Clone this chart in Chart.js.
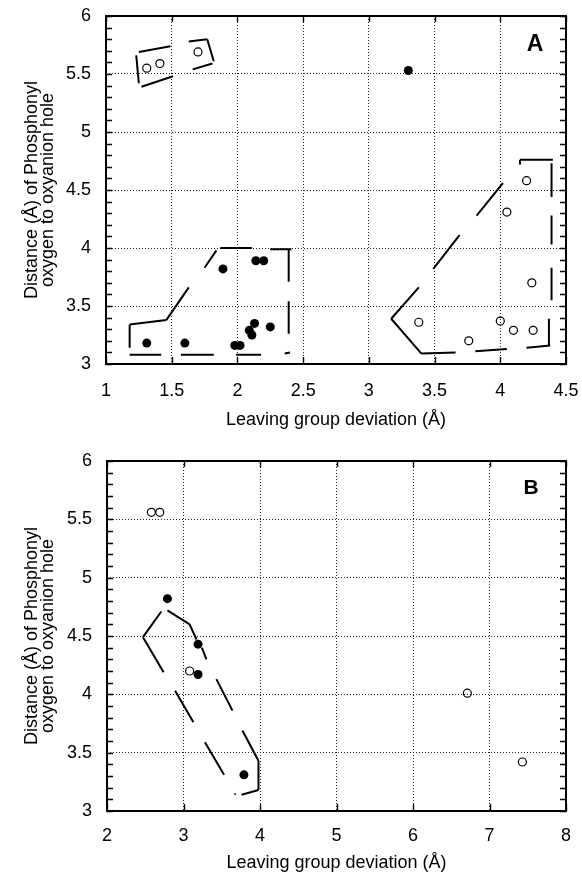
<!DOCTYPE html>
<html><head><meta charset="utf-8">
<script src="https://cdn.jsdelivr.net/npm/chart.js@4/dist/chart.umd.min.js"></script>
<style>
html,body{margin:0;padding:0;background:#fff;}
#wrap{position:relative;width:582px;height:876px;}
.c{position:absolute;left:0;width:582px;height:438px;}
</style></head><body>
<div id="wrap">
<div class="c" style="top:0"><canvas id="cA" width="582" height="438"></canvas></div>
<div class="c" style="top:438px"><canvas id="cB" width="582" height="438"></canvas></div>
</div>
<script>
// ---------- Data ----------
const yTickValues = [3, 3.5, 4, 4.5, 5, 5.5, 6];
const yTickLabels = ['3', '3.5', '4', '4.5', '5', '5.5', '6'];
const xTickValuesA = [1, 1.5, 2, 2.5, 3, 3.5, 4, 4.5];
const xTickLabelsA = ['1', '1.5', '2', '2.5', '3', '3.5', '4', '4.5'];
const xTickValuesB = [2, 3, 4, 5, 6, 7, 8];
const xTickLabelsB = ['2', '3', '4', '5', '6', '7', '8'];

const xTitle = 'Leaving group deviation (Å)';
const yTitle = ['Distance (Å) of Phosphonyl', 'oxygen to oxyanion hole'];

// Panel A
const filledA = [[1.31,3.18],[1.60,3.18],[1.89,3.82],[2.14,3.89],[2.20,3.89],[1.98,3.16],[2.02,3.16],
                 [2.09,3.29],[2.11,3.25],[2.13,3.35],[2.25,3.32],[3.30,5.53]];
const openA = [[1.31,5.55],[1.41,5.59],[1.70,5.69],[4.20,4.58],[4.05,4.31],[4.24,3.70],
               [3.38,3.36],[3.76,3.20],[4.00,3.37],[4.10,3.29],[4.25,3.29]];
// dashed envelope segments [x1,y1,x2,y2]
const outlineA = [
  [1.25,5.69,1.49,5.74],[1.23,5.66,1.25,5.42],[1.27,5.39,1.51,5.48],
  [1.63,5.78,1.77,5.80],[1.77,5.80,1.82,5.61],[1.66,5.54,1.81,5.59],
  [1.18,3.08,1.42,3.08],[1.57,3.08,1.82,3.08],[1.99,3.08,2.18,3.08],[2.36,3.09,2.40,3.10],
  [1.18,3.14,1.18,3.34],[1.18,3.34,1.46,3.38],[1.46,3.38,1.63,3.66],[1.75,3.83,1.84,3.98],
  [1.87,4.00,2.11,4.00],[2.25,3.99,2.41,3.99],[2.39,3.98,2.39,3.71],[2.39,3.54,2.39,3.26],
  [3.17,3.39,3.38,3.66],[3.49,3.82,3.69,4.11],[3.82,4.28,4.02,4.56],
  [3.17,3.39,3.40,3.09],[3.40,3.09,3.66,3.10],[3.81,3.11,4.05,3.13],[4.20,3.14,4.38,3.16],
  [4.37,3.16,4.37,3.39],[4.39,3.55,4.39,3.83],[4.39,4.03,4.39,4.28],[4.39,4.44,4.39,4.73],
  [4.15,4.76,4.40,4.76],[4.15,4.76,4.15,4.72]
];

// Panel B
const filledB = [[2.79,4.82],[3.19,4.43],[3.19,4.17],[3.79,3.31]];
const openB = [[2.58,5.56],[2.69,5.56],[3.08,4.20],[6.71,4.01],[7.43,3.42]];
const outlineB = [
  [2.79,4.72,3.08,4.60],[3.08,4.60,3.17,4.47],[3.24,4.40,3.30,4.30],[3.43,4.13,3.64,3.86],
  [3.77,3.69,3.98,3.43],[3.98,3.43,3.98,3.18],[3.98,3.18,3.76,3.14],[3.67,3.14,3.68,3.15],
  [2.71,4.71,2.47,4.49],[2.47,4.49,2.74,4.19],[2.89,4.03,3.13,3.76],[3.28,3.59,3.53,3.31]
];

// ---------- Helpers ----------
const FONT = "'Liberation Sans', Arial, Helvetica, sans-serif";
function pts(arr) { return arr.map(p => ({x: p[0], y: p[1]})); }
function segs(arr) {
  const out = [];
  arr.forEach(s => { out.push({x:s[0],y:s[1]}); out.push({x:s[2],y:s[3]}); out.push({x:s[2],y:null}); });
  return out;
}

const framePlugin = {
  id: 'frameTicks',
  afterDatasetsDraw(chart, args, o) {
    const {ctx, chartArea: a, scales} = chart;
    const xs = scales.x, ys = scales.y;
    ctx.save();
    ctx.strokeStyle = '#000';
    ctx.lineWidth = 1.4;
    ctx.beginPath();
    const n = Math.round((ys.max - ys.min) / 0.1);
    for (let i = 0; i <= n; i++) {
      const py = Math.round(ys.getPixelForValue(ys.min + i * 0.1)) + 0.5;
      ctx.moveTo(a.left, py); ctx.lineTo(a.left + 6, py);
      ctx.moveTo(a.right - 6, py); ctx.lineTo(a.right, py);
    }
    xs.ticks.forEach(t => {
      const px = Math.round(xs.getPixelForValue(t.value)) + 0.5;
      ctx.moveTo(px, a.top); ctx.lineTo(px, a.top + 6);
      ctx.moveTo(px, a.bottom); ctx.lineTo(px, a.bottom - 7);
    });
    ctx.stroke();
    ctx.lineWidth = 2;
    ctx.strokeRect(a.left, a.top, a.right - a.left, a.bottom - a.top);
    ctx.fillStyle = '#000';
    ctx.font = 'bold ' + o.size + 'px ' + FONT;
    ctx.textAlign = 'center';
    ctx.textBaseline = 'middle';
    ctx.fillText(o.letter, a.right - o.dx, a.top + o.dy);
    ctx.restore();
  }
};

function makeChart(id, c) {
  return new Chart(document.getElementById(id), {
    type: 'scatter',
    data: {
      datasets: [
        {data: segs(c.outline), showLine: true, spanGaps: false, borderColor: '#000', borderWidth: 2,
         pointRadius: 0, pointHoverRadius: 0, fill: false},
        {data: pts(c.filled), pointRadius: 4.5, pointBackgroundColor: '#000', pointBorderColor: '#000', pointBorderWidth: 0},
        {data: pts(c.open), pointRadius: 4, pointBackgroundColor: 'rgba(0,0,0,0)', pointBorderColor: '#000', pointBorderWidth: 1.2}
      ]
    },
    options: {
      responsive: false,
      animation: false,
      devicePixelRatio: 1,
      layout: {padding: {left: 0, right: 16, top: c.top, bottom: 0}},
      plugins: {
        legend: {display: false}, tooltip: {enabled: false},
        frameTicks: {letter: c.letter, size: c.letterSize, dx: c.letterDx, dy: c.letterDy}
      },
      scales: {
        x: {
          type: 'linear', min: c.xMin, max: c.xMax,
          afterBuildTicks: s => { s.ticks = c.xTicks.map(v => ({value: v})); },
          afterFit: s => { s.height = c.xAxisH; s.paddingLeft = 0; s.paddingRight = 0; },
          ticks: {callback: (v, i) => c.xLabels[i], color: '#000', font: {family: FONT, size: 18}, padding: c.xTickPad, maxRotation: 0, autoSkip: false},
          grid: {color: '#222', lineWidth: 1, drawTicks: false},
          border: {display: false, dash: [1, 2]},
          title: {display: true, text: xTitle, color: '#000', font: {family: FONT, size: 18, lineHeight: 1.2}, padding: {top: 0, bottom: c.xTitlePad}}
        },
        y: {
          type: 'linear', min: 3, max: 6,
          afterBuildTicks: s => { s.ticks = yTickValues.map(v => ({value: v})); },
          afterFit: s => { s.width = c.yAxisW; s.paddingTop = 0; s.paddingBottom = 0; },
          ticks: {callback: (v, i) => yTickLabels[i], color: '#000', font: {family: FONT, size: 18}, padding: 15, autoSkip: false},
          grid: {color: '#222', lineWidth: 1, drawTicks: false},
          border: {display: false, dash: [1, 2]},
          title: {display: true, text: yTitle, color: '#000', font: {family: FONT, size: 18, lineHeight: 0.9}, padding: {top: 24, bottom: 0}}
        }
      }
    },
    plugins: [framePlugin]
  });
}

makeChart('cA', {
  filled: filledA, open: openA, outline: outlineA,
  xMin: 1, xMax: 4.5, xTicks: xTickValuesA, xLabels: xTickLabelsA,
  top: 16, xAxisH: 74, yAxisW: 106, xTickPad: 16, xTitlePad: 7,
  letter: 'A', letterSize: 23, letterDx: 31, letterDy: 29
});
makeChart('cB', {
  filled: filledB, open: openB, outline: outlineB,
  xMin: 2, xMax: 8, xTicks: xTickValuesB, xLabels: xTickLabelsB,
  top: 23, xAxisH: 65, yAxisW: 107, xTickPad: 14, xTitlePad: 2,
  letter: 'B', letterSize: 21, letterDx: 35, letterDy: 27
});
</script>
</body></html>
